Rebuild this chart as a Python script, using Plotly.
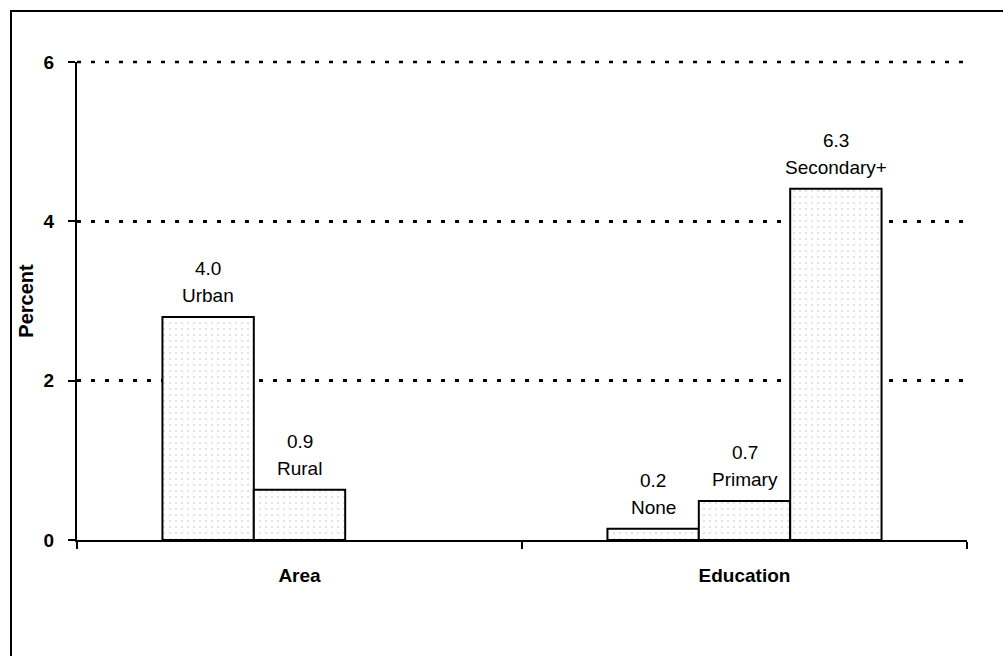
import plotly.graph_objects as go

# Grouped bar data: each series fills one slot inside the two groups
groups = ["Area", "Education"]
slot1_values = [4.0, 0.2]
slot1_names = ["Urban", "None"]
slot2_values = [0.9, 0.7]
slot2_names = ["Rural", "Primary"]
slot3_values = [None, 6.3]
slot3_names = ["", "Secondary+"]

tick_labels = [0, 2, 4, 6]
axis_scale = 10 / 7  # value units per labelled tick unit

FONT = "Liberation Sans, Arial, sans-serif"
BAR_GAP = 0.384
slots = [(slot1_values, slot1_names),
         (slot2_values, slot2_names),
         (slot3_values, slot3_names)]

fig = go.Figure()
for vals, names in slots:
    fig.add_trace(go.Bar(
        x=groups, y=vals,
        marker=dict(
            color="white",
            line=dict(color="black", width=2),
            pattern=dict(shape=".", size=6, solidity=0.1,
                         fgcolor="#b8b8b8", bgcolor="white", fillmode="overlay"),
        ),
        showlegend=False,
    ))

# Value and category label above each bar
slot_w = (1 - BAR_GAP) / len(slots)
for s, (vals, names) in enumerate(slots):
    offset = (s - (len(slots) - 1) / 2) * slot_w
    for gi, (v, n) in enumerate(zip(vals, names)):
        if v is None:
            continue
        for txt, shift in [(n, 9), (f"{v:.1f}", 36)]:
            fig.add_annotation(
                x=gi + offset, y=v, xref="x", yref="y",
                text=txt, showarrow=False, yanchor="bottom", yshift=shift,
                font=dict(family=FONT, size=19, color="black"),
            )

tick_positions = [t * axis_scale for t in tick_labels]

fig.update_layout(
    width=1003, height=656,
    margin=dict(l=77, r=36, t=62, b=116),
    paper_bgcolor="white", plot_bgcolor="white",
    barmode="group", bargap=BAR_GAP, bargroupgap=0,
    font=dict(family=FONT, color="black"),
    xaxis=dict(
        type="category", range=[-0.5, 1.5], tickson="boundaries",
        showline=True, linecolor="black", linewidth=2,
        ticks="outside", ticklen=7, tickwidth=2, tickcolor="black",
        tickvals=groups, ticktext=[f"<b>{g}</b>" for g in groups],
        tickfont=dict(family=FONT, size=19, color="black"),
        ticklabelstandoff=17,
        showgrid=False, zeroline=False,
    ),
    yaxis=dict(
        range=[0, tick_positions[-1]],
        tickvals=tick_positions, ticktext=[f"<b>{t}</b>" for t in tick_labels],
        tickfont=dict(family=FONT, size=19, color="black"),
        ticklabelstandoff=10,
        showline=True, linecolor="black", linewidth=2,
        ticks="outside", ticklen=7, tickwidth=2, tickcolor="black",
        showgrid=True, gridcolor="black", gridwidth=2.5, griddash="4px,10px",
        zeroline=False,
        title=dict(text="<b>Percent</b>", font=dict(family=FONT, size=20, color="black"),
                   standoff=5),
    ),
)

# Gridline at the top tick, which sits on the plot edge
fig.add_shape(type="line", xref="paper", yref="paper", layer="below",
              x0=0, x1=1, y0=1, y1=1,
              line=dict(color="black", width=2.5, dash="4px,10px"))

# Outer frame: left and top edges
pl, pt, pw, ph = 77, 62, 890, 478
def px_x(x):
    return (x - pl) / pw
def px_y(y):
    return (pt + ph - y) / ph

fig.add_shape(type="line", xref="paper", yref="paper",
              x0=px_x(11), x1=px_x(11), y0=px_y(11), y1=px_y(660),
              line=dict(color="black", width=2))
fig.add_shape(type="line", xref="paper", yref="paper",
              x0=px_x(10), x1=px_x(1010), y0=px_y(11), y1=px_y(11),
              line=dict(color="black", width=2))

fig.write_html("out.html")
